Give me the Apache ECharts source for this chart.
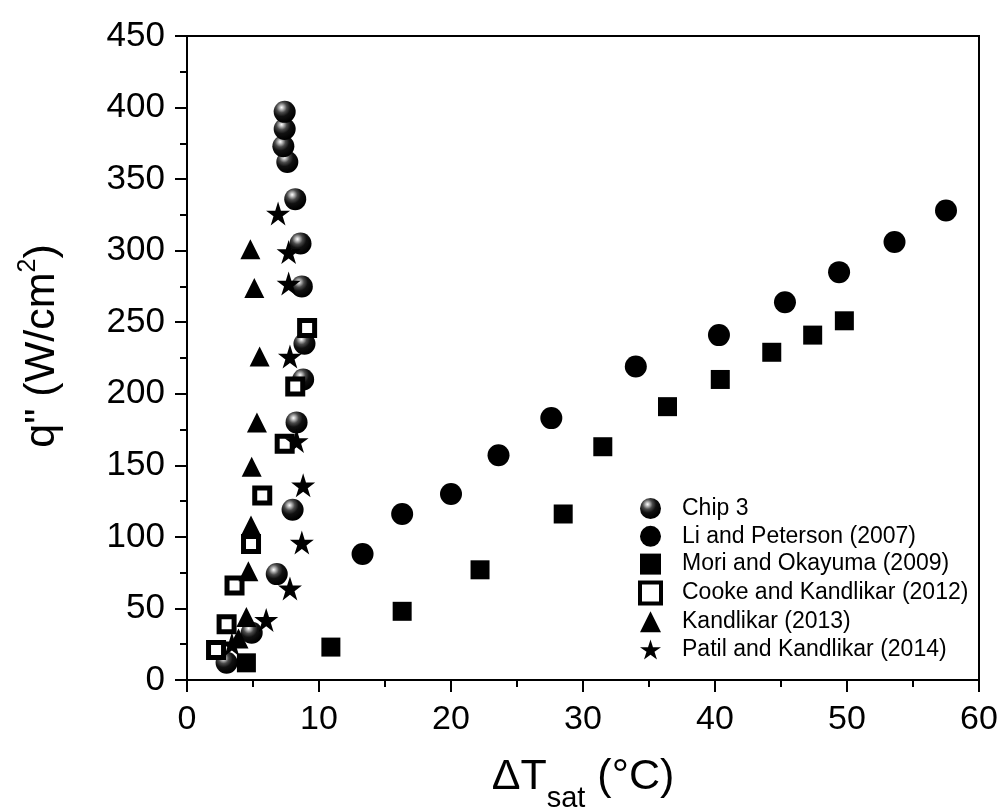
<!DOCTYPE html>
<html>
<head>
<meta charset="utf-8">
<title>Boiling curve comparison</title>
<script src="https://cdn.jsdelivr.net/npm/echarts@6/dist/echarts.min.js"></script>
<style>
  html, body { margin: 0; padding: 0; background: #fff; }
  #main { width: 1005px; height: 812px; }
</style>
</head>
<body>
<div id="main"></div>
<script>
// [ΔTsat (°C), q'' (W/cm2)]
const chip3 = [
  [3.0, 12], [4.9, 33], [6.8, 74], [8.0, 119], [8.3, 180], [8.8, 210],
  [8.9, 235], [8.7, 275], [8.6, 305], [8.2, 336], [7.6, 362], [7.3, 373],
  [7.4, 385], [7.4, 397]
];
const liPeterson = [
  [13.3, 88], [16.3, 116], [20.0, 130], [23.6, 157], [27.6, 183], [34.0, 219],
  [40.3, 241], [45.3, 264], [49.4, 285], [53.6, 306], [57.5, 328]
];
const moriOkayuma = [
  [4.5, 12], [10.9, 23], [16.3, 48], [22.2, 77], [28.5, 116], [31.5, 163],
  [36.4, 191], [40.4, 210], [44.3, 229], [47.4, 241], [49.8, 251]
];
const cookeKandlikar = [
  [2.2, 21], [3.0, 39], [3.6, 66], [4.85, 95], [5.7, 129], [7.4, 165],
  [8.2, 205], [9.1, 246]
];
const kandlikar = [
  [3.9, 29], [4.5, 44], [4.65, 76], [4.85, 108], [4.9, 149], [5.3, 180],
  [5.5, 226], [5.1, 274], [4.8, 301]
];
const patilKandlikar = [
  [3.4, 25], [6.0, 42], [7.8, 64], [8.7, 96], [8.8, 136], [8.3, 167],
  [7.8, 226], [7.7, 277], [7.7, 299], [6.9, 326]
];

const seriesNames = [
  "Chip 3",
  "Li and Peterson (2007)",
  "Mori and Okayuma (2009)",
  "Cooke and Kandlikar (2012)",
  "Kandlikar (2013)",
  "Patil and Kandlikar (2014)"
];

const FONT = "Liberation Sans, Arial, sans-serif";
const STAR = "path://M50 0 L61.23 34.55 L97.55 34.55 L68.16 55.9 L79.39 90.45 L50 69.1 L20.61 90.45 L31.84 55.9 L2.45 34.55 L38.77 34.55 Z";

// shaded ball used for Chip 3
const sphere = {
  type: "radial", x: 0.36, y: 0.3, r: 0.68,
  colorStops: [
    { offset: 0, color: "#ffffff" },
    { offset: 0.12, color: "#c4c4c4" },
    { offset: 0.35, color: "#4a4a4a" },
    { offset: 0.6, color: "#111" },
    { offset: 1, color: "#000" }
  ]
};

function scatter(name, data, symbol, size, itemStyle) {
  return {
    name: name,
    type: "scatter",
    data: data,
    symbol: symbol,
    symbolSize: size,
    itemStyle: Object.assign({ opacity: 1 }, itemStyle),
    emphasis: { disabled: true }
  };
}

const chart = echarts.init(document.getElementById("main"));
chart.setOption({
  backgroundColor: "#fff",
  animation: false,
  textStyle: { fontFamily: FONT, color: "#000" },
  grid: {
    left: 187, right: 26, top: 36, bottom: 132,
    outerBoundsMode: "none",
    show: true, borderColor: "#000", borderWidth: 2
  },
  legend: {
    orient: "vertical",
    left: 638, top: 497, padding: 0,
    itemWidth: 21, itemHeight: 21,
    itemGap: 4.8,
    data: seriesNames.map(function (n, i) {
      return i === 3
        ? { name: n, itemStyle: { borderWidth: 4 } }
        : { name: n };
    }),
    textStyle: { fontSize: 23, fontFamily: FONT, color: "#000", lineHeight: 21, padding: [0, 0, 0, 16] },
    selectedMode: false
  },
  xAxis: {
    type: "value", min: 0, max: 60, interval: 10,
    name: "{a|ΔT}{sub|sat}{a| (°C)}",
    nameLocation: "middle", nameGap: 61,
    nameTextStyle: {
      rich: {
        a: { fontSize: 43, fontFamily: FONT, color: "#000", lineHeight: 72, verticalAlign: "middle" },
        sub: { fontSize: 29, fontFamily: FONT, color: "#000", lineHeight: 72, verticalAlign: "bottom" }
      }
    },
    axisLine: { lineStyle: { color: "#000", width: 2 } },
    axisTick: { length: 12, lineStyle: { color: "#000", width: 2 } },
    minorTick: { show: true, splitNumber: 2, length: 7, lineStyle: { color: "#000", width: 2 } },
    axisLabel: { fontSize: 34, color: "#000", margin: 23, fontFamily: FONT },
    splitLine: { show: false }
  },
  yAxis: {
    type: "value", min: 0, max: 450, interval: 50,
    name: "{a|q\" (W/cm}{sup|2}{a|)}",
    nameLocation: "middle", nameGap: 119, nameRotate: 90,
    nameTextStyle: {
      padding: [0, 0, 0, 24],
      rich: {
        a: { fontSize: 43, fontFamily: FONT, color: "#000", lineHeight: 52, verticalAlign: "middle" },
        sup: { fontSize: 25, fontFamily: FONT, color: "#000", lineHeight: 52, verticalAlign: "top" }
      }
    },
    axisLine: { lineStyle: { color: "#000", width: 2 } },
    axisTick: { length: 12, lineStyle: { color: "#000", width: 2 } },
    minorTick: { show: true, splitNumber: 2, length: 7, lineStyle: { color: "#000", width: 2 } },
    axisLabel: { fontSize: 35, color: "#000", margin: 22, fontFamily: FONT },
    splitLine: { show: false }
  },
  series: [
    scatter(seriesNames[0], chip3, "circle", 22, { color: sphere }),
    scatter(seriesNames[1], liPeterson, "circle", 22, { color: "#000" }),
    scatter(seriesNames[2], moriOkayuma, "rect", 19, { color: "#000" }),
    scatter(seriesNames[3], cookeKandlikar, "rect", 15, { color: "#fff", borderColor: "#000", borderWidth: 5 }),
    scatter(seriesNames[4], kandlikar, "triangle", 20, { color: "#000" }),
    scatter(seriesNames[5], patilKandlikar, STAR, 24, { color: "#000" })
  ]
});
</script>
</body>
</html>
